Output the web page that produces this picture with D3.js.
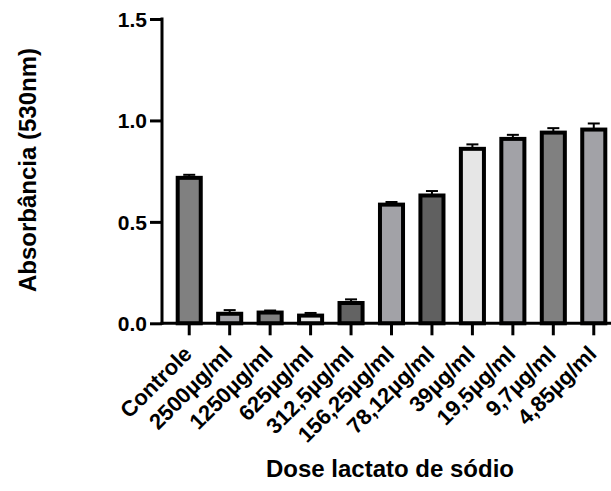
<!DOCTYPE html>
<html>
<head>
<meta charset="utf-8">
<script src="https://cdn.jsdelivr.net/npm/d3@7"></script>
<style>
  body { margin: 0; background: #fff; }
  text { font-family: "Liberation Sans", Arial, sans-serif; font-weight: bold; }
</style>
</head>
<body>
<div id="chart"></div>
<script>
var categories = ["Controle","2500µg/ml","1250µg/ml","625µg/ml","312,5µg/ml","156,25µg/ml","78,12µg/ml","39µg/ml","19,5µg/ml","9,7µg/ml","4,85µg/ml"];
var means = [0.717, 0.047, 0.053, 0.038, 0.100, 0.585, 0.630, 0.860, 0.909, 0.940, 0.955];
var errors = [0.015, 0.018, 0.010, 0.013, 0.018, 0.013, 0.022, 0.022, 0.020, 0.022, 0.030];
var fills = ["#808080","#a2a2a7","#808080","#e6e6e6","#636363","#a2a2a7","#606060","#e6e6e6","#a2a2a7","#808080","#a2a2a7"];
var yTicks = [0, 0.5, 1.0, 1.5];

var width = 611, height = 491;

var svg = d3.select("#chart")
  .append("svg")
    .attr("width", width)
    .attr("height", height);

var data = categories.map(function(c, i){
  return {cat: c, mean: means[i], err: errors[i], fill: fills[i]};
});

var y = d3.scaleLinear()
  .domain([0, 1.5])
  .range([323.3, 19]);

var x = d3.scaleBand()
  .domain(categories)
  .range([169, 614])
  .paddingInner(0.43)
  .paddingOuter(0.215);

// bars
var bars = svg.selectAll(".bar")
  .data(data)
  .enter()
  .append("g");

bars.append("rect")
  .attr("x", function(d){ return x(d.cat); })
  .attr("y", function(d){ return y(d.mean); })
  .attr("width", x.bandwidth())
  .attr("height", function(d){ return y(0) - y(d.mean); })
  .attr("fill", function(d){ return d.fill; })
  .attr("stroke", "#000")
  .attr("stroke-width", 4);

// error bars (upper only)
bars.append("line")
  .attr("x1", function(d){ return x(d.cat) + x.bandwidth()/2; })
  .attr("x2", function(d){ return x(d.cat) + x.bandwidth()/2; })
  .attr("y1", function(d){ return y(d.mean); })
  .attr("y2", function(d){ return y(d.mean + d.err); })
  .attr("stroke", "#000")
  .attr("stroke-width", 2);

bars.append("line")
  .attr("x1", function(d){ return x(d.cat) + x.bandwidth()/2 - 6; })
  .attr("x2", function(d){ return x(d.cat) + x.bandwidth()/2 + 6; })
  .attr("y1", function(d){ return y(d.mean + d.err); })
  .attr("y2", function(d){ return y(d.mean + d.err); })
  .attr("stroke", "#000")
  .attr("stroke-width", 2);

//y-axis
var yAxis = svg.append("g")
  .attr("transform", "translate(162,0)")
  .call(d3.axisLeft(y).tickValues(yTicks).tickFormat(d3.format(".1f")).tickSize(12).tickSizeOuter(0).tickPadding(3));
yAxis.select(".domain").attr("stroke-width", 3).attr("d", "M0," + (y(0)+1.5) + "V" + (y(1.5)-1.5));
yAxis.selectAll(".tick line").attr("stroke-width", 3);
yAxis.selectAll("text").attr("font-size", 21).attr("fill", "#000").attr("dy", "0.36em")
  .style("font-family", "Liberation Sans, Arial, sans-serif").style("font-weight", "bold");

//x-axis
var xAxis = svg.append("g")
  .attr("transform", "translate(0," + y(0) + ")")
  .call(d3.axisBottom(x).tickSize(12).tickSizeOuter(0));
xAxis.select(".domain").attr("stroke-width", 3).attr("d", "M160.5,0H614");
xAxis.selectAll(".tick line").attr("stroke-width", 3);
xAxis.selectAll("text")
  .attr("font-size", 22)
  .attr("fill", "#000")
  .style("font-family", "Liberation Sans, Arial, sans-serif")
  .style("font-weight", "bold")
  .attr("text-anchor", "end")
  .attr("dy", null)
  .attr("y", 0)
  .attr("transform", "translate(4,32)rotate(-45)");

// axis titles
svg.append("text")
  .attr("transform", "translate(36,170)rotate(-90)")
  .attr("text-anchor", "middle")
  .attr("font-size", 24)
  .text("Absorbância (530nm)");

svg.append("text")
  .attr("x", 390)
  .attr("y", 477)
  .attr("text-anchor", "middle")
  .attr("font-size", 24)
  .text("Dose lactato de sódio");
</script>
</body>
</html>
